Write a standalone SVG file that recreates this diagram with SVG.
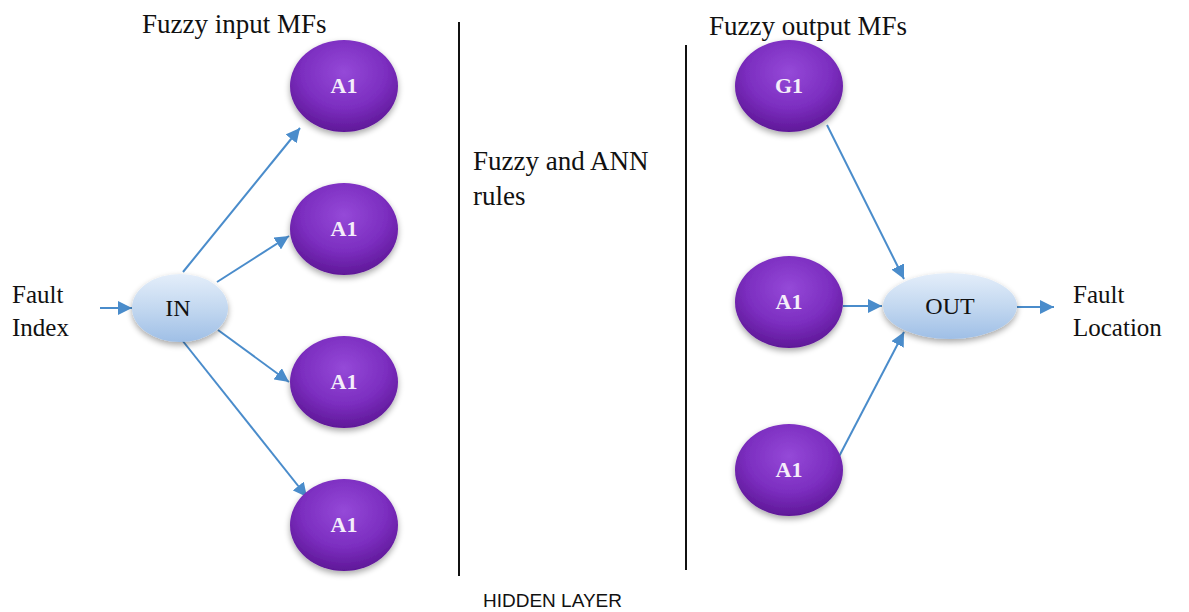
<svg xmlns="http://www.w3.org/2000/svg" width="1189" height="612" viewBox="0 0 1189 612">
<defs>
<radialGradient id="purple" cx="0.5" cy="0.35" r="0.65">
<stop offset="0" stop-color="#9549d8"/>
<stop offset="0.6" stop-color="#7c2ec0"/>
<stop offset="1" stop-color="#5f1898"/>
</radialGradient>
<linearGradient id="blue" x1="0" y1="0" x2="0" y2="1">
<stop offset="0" stop-color="#e4eefa"/>
<stop offset="0.5" stop-color="#c3d8f0"/>
<stop offset="1" stop-color="#9fbfe6"/>
</linearGradient>
<filter id="sh" x="-20%" y="-20%" width="140%" height="150%">
<feGaussianBlur in="SourceAlpha" stdDeviation="3"/>
<feOffset dx="0" dy="3" result="b"/>
<feComponentTransfer><feFuncA type="linear" slope="0.35"/></feComponentTransfer>
<feMerge><feMergeNode/><feMergeNode in="SourceGraphic"/></feMerge>
</filter>
<marker id="arr" viewBox="0 0 10 10" refX="10" refY="5" markerWidth="7" markerHeight="7" orient="auto" markerUnits="strokeWidth">
<path d="M0,0 L10,5 L0,10 z" fill="#4a8ccb"/>
</marker>
</defs>
<style>
.mf{fill:url(#purple);filter:url(#sh)}
.io{fill:url(#blue);filter:url(#sh)}
.wl{font-family:"Liberation Serif",serif;font-size:22px;fill:#f4eefa;text-anchor:middle;font-weight:bold}
.bl{font-family:"Liberation Serif",serif;font-size:24px;fill:#111;text-anchor:middle}
.lbl{font-family:"Liberation Serif",serif;font-size:27px;fill:#111}
.side{font-family:"Liberation Serif",serif;font-size:25px;fill:#111}
.conn line{stroke:#4a8ccb;stroke-width:2;marker-end:url(#arr)}
.div{stroke:#111;stroke-width:2}
</style>
<rect width="1189" height="612" fill="#ffffff"/>
<line class="div" x1="459" y1="22" x2="459" y2="576"/>
<line class="div" x1="686" y1="45" x2="686" y2="570"/>
<text class="lbl" x="142" y="33">Fuzzy input MFs</text>
<text class="lbl" x="709" y="35">Fuzzy output MFs</text>
<text class="lbl" x="473" y="170">Fuzzy and ANN</text>
<text class="lbl" x="473" y="205">rules</text>
<text class="side" x="12" y="303">Fault</text>
<text class="side" x="12" y="336">Index</text>
<text class="side" x="1073" y="303">Fault</text>
<text class="side" x="1073" y="336">Location</text>
<text x="483" y="607" style="font-family:'Liberation Sans',sans-serif;font-size:19px;fill:#111">HIDDEN LAYER</text>
<g class="conn">
<line x1="100" y1="308" x2="132" y2="308"/>
<line x1="183" y1="272" x2="300" y2="128"/>
<line x1="217" y1="282" x2="289" y2="236"/>
<line x1="218" y1="330" x2="289" y2="382"/>
<line x1="182" y1="340" x2="307" y2="497"/>
<line x1="827" y1="125" x2="904" y2="279"/>
<line x1="843" y1="306" x2="882" y2="306"/>
<line x1="833" y1="468" x2="904" y2="332"/>
<line x1="1017" y1="307" x2="1054" y2="307"/>
</g>
<g id="in"><ellipse class="io" cx="180" cy="308" rx="48" ry="34"/><text class="bl" x="178" y="316">IN</text></g>
<g id="out"><ellipse class="io" cx="950" cy="306" rx="67" ry="33"/><text class="bl" x="950" y="314">OUT</text></g>
<g id="a1-1"><ellipse class="mf" cx="344" cy="86" rx="54" ry="46"/><text class="wl" x="344" y="93">A1</text></g>
<g id="a1-2"><ellipse class="mf" cx="344" cy="229" rx="54" ry="46"/><text class="wl" x="344" y="236">A1</text></g>
<g id="a1-3"><ellipse class="mf" cx="344" cy="382" rx="54" ry="46"/><text class="wl" x="344" y="389">A1</text></g>
<g id="a1-4"><ellipse class="mf" cx="344" cy="525" rx="54" ry="46"/><text class="wl" x="344" y="532">A1</text></g>
<g id="g1"><ellipse class="mf" cx="789" cy="86" rx="54" ry="46"/><text class="wl" x="789" y="93">G1</text></g>
<g id="a1-5"><ellipse class="mf" cx="789" cy="302" rx="54" ry="46"/><text class="wl" x="789" y="309">A1</text></g>
<g id="a1-6"><ellipse class="mf" cx="789" cy="470" rx="54" ry="46"/><text class="wl" x="789" y="477">A1</text></g>
</svg>
